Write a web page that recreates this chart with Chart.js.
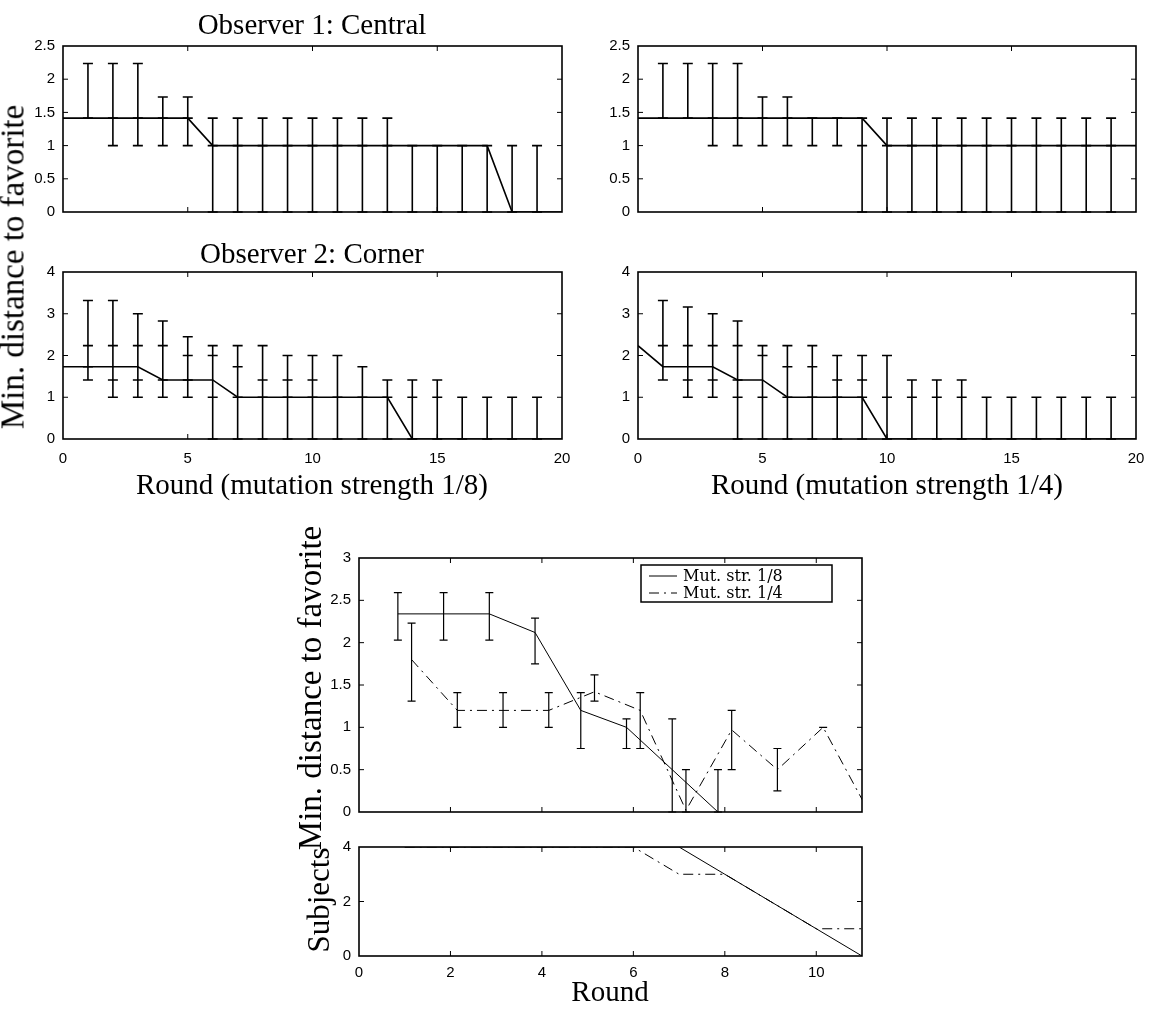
<!DOCTYPE html>
<html>
<head>
<meta charset="utf-8">
<script src="https://cdn.jsdelivr.net/npm/chart.js@4.4.1/dist/chart.umd.min.js"></script>
<style>
  body { margin: 0; background: #fff; }
  #fig { position: relative; width: 1149px; height: 1011px; overflow: hidden; background: #fff; }
  #fig canvas { position: absolute; }
  .lbl { position: absolute; font-family: 'Liberation Serif', serif; font-size: 29px; line-height: 1;
         white-space: nowrap; color: #000; transform: translate(-50%, -50%); z-index: 2; }
  .rot { transform: translate(-50%, -50%) rotate(-90deg); font-size: 33px; }
</style>
</head>
<body>
<div id="fig">
  <canvas id="cTL" width="580" height="192" style="left:0px; top:30px"></canvas>
  <canvas id="cTR" width="574" height="192" style="left:575px; top:30px"></canvas>
  <canvas id="cML" width="580" height="213" style="left:0px; top:256px"></canvas>
  <canvas id="cMR" width="574" height="213" style="left:575px; top:256px"></canvas>
  <canvas id="cBT" width="573" height="278" style="left:309px; top:542px"></canvas>
  <canvas id="cBB" width="573" height="151" style="left:309px; top:835px"></canvas>

  <div class="lbl" style="left:312px; top:24px">Observer 1: Central</div>
  <div class="lbl" style="left:312px; top:253px">Observer 2: Corner</div>
  <div class="lbl" style="left:312px; top:484px">Round (mutation strength 1/8)</div>
  <div class="lbl" style="left:887px; top:484px">Round (mutation strength 1/4)</div>
  <div class="lbl rot" style="left:13px; top:267px">Min. distance to favorite</div>
  <div class="lbl rot" style="left:310px; top:688px">Min. distance to favorite</div>
  <div class="lbl rot" style="left:318px; top:900px; font-size:31px">Subjects</div>
  <div class="lbl" style="left:610px; top:991px">Round</div>
</div>
<script>
// rounds and ticks for the four observer panels
const rounds = [0, 1, 2, 3, 4, 5, 6, 7, 8, 9, 10, 11, 12, 13, 14, 15, 16, 17, 18, 19, 20];
const roundTicks = [0, 5, 10, 15, 20];
const centralTicks = [0, 0.5, 1, 1.5, 2, 2.5];
const cornerTicks = [0, 1, 2, 3, 4];

// Observer 1 (central), mutation strength 1/8
const centralMean18 = [1.414, 1.414, 1.414, 1.414, 1.414, 1.414, 1, 1, 1, 1, 1, 1, 1, 1, 1, 1, 1, 1, 0, 0, 0];
const centralCaps18 = [
    [], [1.414, 2.236], [1, 1.414, 2.236], [1, 1.414, 2.236], [1, 1.414, 1.732], [1, 1.414, 1.732],
    [0, 1, 1.414], [0, 1, 1.414], [0, 1, 1.414], [0, 1, 1.414], [0, 1, 1.414], [0, 1, 1.414],
    [0, 1, 1.414], [0, 1, 1.414], [0, 1], [0, 1], [0, 1], [0, 1], [0, 1], [0, 1], []
];

// Observer 1 (central), mutation strength 1/4
const centralMean14 = [1.414, 1.414, 1.414, 1.414, 1.414, 1.414, 1.414, 1.414, 1.414, 1.414, 1, 1, 1, 1, 1, 1, 1, 1, 1, 1, 1];
const centralCaps14 = [
    [], [1.414, 2.236], [1.414, 2.236], [1, 1.414, 2.236], [1, 1.414, 2.236], [1, 1.414, 1.732],
    [1, 1.414, 1.732], [1, 1.414], [1, 1.414], [0, 1, 1.414], [0, 1, 1.414], [0, 1, 1.414],
    [0, 1, 1.414], [0, 1, 1.414], [0, 1, 1.414], [0, 1, 1.414], [0, 1, 1.414], [0, 1, 1.414],
    [0, 1, 1.414], [0, 1, 1.414], []
];

// Observer 2 (corner), mutation strength 1/8
const cornerMean18 = [1.732, 1.732, 1.732, 1.732, 1.414, 1.414, 1.414, 1, 1, 1, 1, 1, 1, 1, 0, 0, 0, 0, 0, 0, 0];
const cornerCaps18 = [
    [], [1.414, 1.732, 2.236, 3.317], [1, 1.414, 2.236, 3.317], [1, 1.414, 2.236, 3],
    [1, 1.414, 2.236, 2.828], [1, 1.414, 2, 2.449], [0, 1, 2, 2.236], [0, 1, 1.732, 2.236],
    [0, 1, 1.414, 2.236], [0, 1, 1.414, 2], [0, 1, 1.414, 2], [0, 1, 2], [0, 1, 1.732],
    [0, 1, 1.414], [0, 1, 1.414], [0, 1, 1.414], [0, 1], [0, 1], [0, 1], [0, 1], []
];

// Observer 2 (corner), mutation strength 1/4
const cornerMean14 = [2.236, 1.732, 1.732, 1.732, 1.414, 1.414, 1, 1, 1, 1, 0, 0, 0, 0, 0, 0, 0, 0, 0, 0, 0];
const cornerCaps14 = [
    [], [1.414, 2.236, 3.317], [1, 1.414, 2.236, 3.162], [1, 1.414, 2.236, 3],
    [0, 1, 1.414, 2.236, 2.828], [0, 1, 2, 2.236], [0, 1, 1.732, 2.236], [0, 1, 1.732, 2.236],
    [0, 1, 1.414, 2], [0, 1, 1.414, 2], [0, 1, 2], [0, 1, 1.414], [0, 1, 1.414], [0, 1, 1.414],
    [0, 1], [0, 1], [0, 1], [0, 1], [0, 1], [0, 1], []
];

// summary panel: mean over subjects
const sumXTicks = [0, 2, 4, 6, 8, 10];
const sumYTicks = [0, 0.5, 1, 1.5, 2, 2.5, 3];
const mut18Round = [0.85, 1.85, 2.85, 3.85, 4.85, 5.85, 6.85, 7.85];
const mut18Mean = [2.34, 2.34, 2.34, 2.12, 1.2, 1.0, 0.5, 0];
const mut18Low = [2.03, 2.03, 2.03, 1.75, 0.75, 0.75, 0, 0];
const mut18High = [2.59, 2.59, 2.59, 2.29, 1.41, 1.1, 1.1, 0.5];
const mut14Round = [1.15, 2.15, 3.15, 4.15, 5.15, 6.15, 7.15, 8.15, 9.15, 10.15, 11.15];
const mut14Mean = [1.8, 1.2, 1.2, 1.2, 1.42, 1.2, 0.02, 0.97, 0.5, 1.0, 0];
const mut14Low = [1.31, 1.0, 1.0, 1.0, 1.31, 0.75, 0, 0.5, 0.25, 1.0, null];
const mut14High = [2.23, 1.41, 1.41, 1.41, 1.62, 1.41, 0.5, 1.2, 0.75, 1.0, null];

// subjects still playing
const subjTicks = [0, 2, 4];
const subjRound = [1, 2, 3, 4, 5, 6, 7, 8, 9, 10, 11];
const subjects18 = [4, 4, 4, 4, 4, 4, 4, 3, 2, 1, 0];
const subjects14 = [4, 4, 4, 4, 4, 4, 3, 3, 2, 1, 1];

const dashDot = [10, 5, 2, 5];

Chart.defaults.font.family = "'Liberation Sans', Arial, sans-serif";
Chart.defaults.font.size = 15;
Chart.defaults.color = '#000';

function points(xs, ys) {
    return xs.map((x, i) => ({ x: x, y: ys[i] }));
}

function lowHigh(lo, hi) {
    return lo.map((l, i) => (l === null ? [] : [l, hi[i]]));
}

function noPadding(s) {
    s.paddingLeft = 0;
    s.paddingRight = 0;
    s.paddingTop = 0;
    s.paddingBottom = 0;
}

const errorBarPlugin = {
    id: 'errorBars',
    afterDatasetsDraw(chart) {
        const { ctx, chartArea: a, scales: { x, y } } = chart;
        ctx.save();
        ctx.beginPath();
        ctx.rect(a.left - 2, a.top - 2, a.right - a.left + 4, a.bottom - a.top + 4);
        ctx.clip();
        ctx.strokeStyle = '#000';
        chart.data.datasets.forEach(ds => {
            if (!ds.caps) return;
            ctx.lineWidth = ds.barWidth;
            ds.data.forEach((pt, i) => {
                const levels = ds.caps[i];
                if (!levels || !levels.length) return;
                const px = x.getPixelForValue(pt.x);
                const ys = levels.map(v => y.getPixelForValue(v));
                ctx.beginPath();
                ctx.moveTo(px, Math.min(...ys));
                ctx.lineTo(px, Math.max(...ys));
                ys.forEach(py => {
                    ctx.moveTo(px - ds.capHalf, py);
                    ctx.lineTo(px + ds.capHalf, py);
                });
                ctx.stroke();
            });
        });
        ctx.restore();
    }
};

// matlab style box with inward ticks
const framePlugin = {
    id: 'frame',
    afterDraw(chart) {
        const { ctx, chartArea: a, scales: { x, y } } = chart;
        ctx.save();
        ctx.strokeStyle = '#000';
        ctx.lineWidth = 1;
        ctx.beginPath();
        x.ticks.forEach(t => {
            const px = x.getPixelForValue(t.value);
            if (px < a.left + 2 || px > a.right - 2) return;
            ctx.moveTo(px, a.bottom); ctx.lineTo(px, a.bottom - 5);
            ctx.moveTo(px, a.top); ctx.lineTo(px, a.top + 5);
        });
        y.ticks.forEach(t => {
            const py = y.getPixelForValue(t.value);
            if (py < a.top + 2 || py > a.bottom - 2) return;
            ctx.moveTo(a.left, py); ctx.lineTo(a.left + 5, py);
            ctx.moveTo(a.right, py); ctx.lineTo(a.right - 5, py);
        });
        ctx.stroke();
        ctx.lineWidth = 1.6;
        ctx.strokeRect(a.left, a.top, a.right - a.left, a.bottom - a.top);
        ctx.restore();
    }
};

const boxLegendPlugin = {
    id: 'boxLegend',
    afterDraw(chart, args, opts) {
        if (!opts || !opts.width) return;
        const { ctx, chartArea: a } = chart;
        const left = a.right - opts.right - opts.width;
        const top = a.top + opts.top;
        ctx.save();
        ctx.fillStyle = '#fff';
        ctx.fillRect(left, top, opts.width, opts.height);
        ctx.strokeStyle = '#000';
        ctx.lineWidth = 1.5;
        ctx.strokeRect(left, top, opts.width, opts.height);
        ctx.font = opts.font;
        ctx.fillStyle = '#000';
        ctx.textBaseline = 'middle';
        chart.data.datasets.forEach((ds, i) => {
            const yy = top + opts.rowTop + i * opts.rowGap;
            ctx.lineWidth = 1;
            ctx.setLineDash(ds.borderDash || []);
            ctx.beginPath();
            ctx.moveTo(left + 8, yy);
            ctx.lineTo(left + 36, yy);
            ctx.stroke();
            ctx.setLineDash([]);
            ctx.fillText(ds.label, left + 42, yy + 1);
        });
        ctx.restore();
    }
};

function makeChart(id, cfg) {
    const ctx = document.getElementById(id).getContext('2d');
    return new Chart(ctx, {
        type: 'line',
        data: { datasets: cfg.datasets },
        options: {
            responsive: false,
            animation: false,
            events: [],
            layout: { padding: { top: cfg.padTop, right: cfg.padRight, bottom: cfg.padBottom, left: 0 } },
            plugins: {
                legend: { display: false },
                tooltip: { enabled: false },
                boxLegend: cfg.boxLegend || {}
            },
            scales: {
                x: {
                    type: 'linear',
                    min: 0,
                    max: cfg.xMax,
                    afterBuildTicks: s => { s.ticks = cfg.xTicks.map(v => ({ value: v })); },
                    afterFit: s => { s.height = cfg.xAxisH; noPadding(s); },
                    grid: { display: false, drawTicks: false },
                    border: { display: false },
                    ticks: { display: cfg.showX, padding: cfg.xPad, maxRotation: 0, autoSkip: false, callback: v => String(v) }
                },
                y: {
                    type: 'linear',
                    min: 0,
                    max: cfg.yMax,
                    afterBuildTicks: s => { s.ticks = cfg.yTicks.map(v => ({ value: v })); },
                    afterFit: s => { s.width = cfg.yAxisW; noPadding(s); },
                    grid: { display: false, drawTicks: false },
                    border: { display: false },
                    ticks: { padding: 8, autoSkip: false, callback: v => String(v) }
                }
            }
        },
        plugins: [errorBarPlugin, framePlugin, boxLegendPlugin]
    });
}

function stepSeries(means, caps) {
    return [{
        data: points(rounds, means),
        borderColor: '#000',
        borderWidth: 1.6,
        pointRadius: 0,
        tension: 0,
        fill: false,
        caps: caps,
        capHalf: 5,
        barWidth: 1.6
    }];
}

document.addEventListener('DOMContentLoaded', () => {
    const top = { xMax: 20, xTicks: roundTicks, yMax: 2.5, yTicks: centralTicks, yAxisW: 63, padTop: 16, padBottom: 10, xAxisH: 0, showX: false, xPad: 0 };
    const mid = { xMax: 20, xTicks: roundTicks, yMax: 4, yTicks: cornerTicks, yAxisW: 63, padTop: 16, padBottom: 0, xAxisH: 30, showX: true, xPad: 11 };

    makeChart('cTL', Object.assign({}, top, { padRight: 18, datasets: stepSeries(centralMean18, centralCaps18) }));
    makeChart('cTR', Object.assign({}, top, { padRight: 13, datasets: stepSeries(centralMean14, centralCaps14) }));
    makeChart('cML', Object.assign({}, mid, { padRight: 18, datasets: stepSeries(cornerMean18, cornerCaps18) }));
    makeChart('cMR', Object.assign({}, mid, { padRight: 13, datasets: stepSeries(cornerMean14, cornerCaps14) }));

    makeChart('cBT', {
        xMax: 11, xTicks: sumXTicks, yMax: 3, yTicks: sumYTicks, yAxisW: 50,
        padTop: 16, padRight: 20, padBottom: 8, xAxisH: 0, showX: false, xPad: 0,
        boxLegend: { right: 30, top: 7, width: 191, height: 37, rowTop: 11, rowGap: 17, font: "16px 'DejaVu Serif', serif" },
        datasets: [
            {
                label: 'Mut. str. 1/8',
                data: points(mut18Round, mut18Mean),
                borderColor: '#000', borderWidth: 1, pointRadius: 0, tension: 0, fill: false,
                caps: lowHigh(mut18Low, mut18High), capHalf: 4, barWidth: 1.2
            },
            {
                label: 'Mut. str. 1/4',
                data: points(mut14Round, mut14Mean),
                borderColor: '#000', borderWidth: 1, borderDash: dashDot, pointRadius: 0, tension: 0, fill: false,
                caps: lowHigh(mut14Low, mut14High), capHalf: 4, barWidth: 1.2
            }
        ]
    });

    makeChart('cBB', {
        xMax: 11, xTicks: sumXTicks, yMax: 4, yTicks: subjTicks, yAxisW: 50,
        padTop: 12, padRight: 20, padBottom: 0, xAxisH: 30, showX: true, xPad: 8,
        datasets: [
            {
                label: 'Mut. str. 1/8',
                data: points(subjRound, subjects18),
                borderColor: '#000', borderWidth: 1, pointRadius: 0, tension: 0, fill: false
            },
            {
                label: 'Mut. str. 1/4',
                data: points(subjRound, subjects14),
                borderColor: '#000', borderWidth: 1, borderDash: dashDot, pointRadius: 0, tension: 0, fill: false
            }
        ]
    });
});
</script>
</body>
</html>
